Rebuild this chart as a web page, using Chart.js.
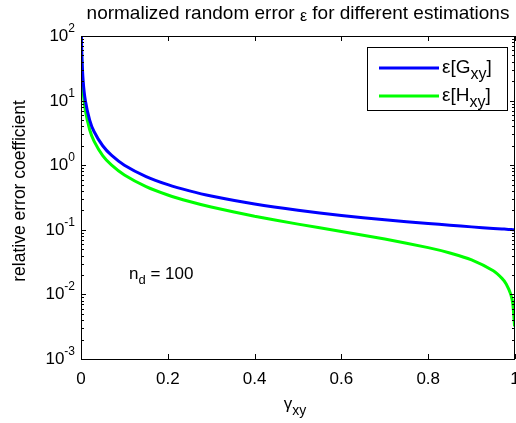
<!DOCTYPE html>
<html>
<head>
<meta charset="utf-8">
<script src="https://cdn.jsdelivr.net/npm/chart.js@4"></script>
<style>
  html, body { margin: 0; padding: 0; background: #fff; }
  #wrap { width: 516px; height: 423px; }
</style>
</head>
<body>
<div id="wrap"><canvas id="errChart" width="516" height="423"></canvas></div>
<script>
// coherence values (x axis)
const gammaVals = [0.001, 0.002, 0.005, 0.01, 0.02, 0.03, 0.05, 0.07, 0.1, 0.15, 0.2, 0.25, 0.3,
  0.4, 0.5, 0.6, 0.7, 0.8, 0.85, 0.9, 0.95, 0.97, 0.98, 0.99, 0.995, 0.999];
// eps[Gxy]
const errG = [100, 50, 20, 10, 5, 3.33, 2, 1.43, 1, 0.667, 0.5, 0.4, 0.333,
  0.25, 0.2, 0.167, 0.143, 0.125, 0.118, 0.111, 0.105, 0.103, 0.102, 0.101, 0.1005, 0.1];
// eps[Hxy]
const errH = [70.7, 35.4, 14.1, 7.07, 3.54, 2.36, 1.41, 1.01, 0.704, 0.466, 0.346, 0.274, 0.225,
  0.162, 0.1225, 0.0943, 0.0721, 0.053, 0.0438, 0.0342, 0.0232, 0.0177, 0.0144, 0.0101, 0.0071, 0.0032];
const xTicks = [0, 0.2, 0.4, 0.6, 0.8, 1];
const xTickLabels = ['0', '0.2', '0.4', '0.6', '0.8', '1'];
const yExps = [-3, -2, -1, 0, 1, 2];

const FONT = '"Liberation Sans", Arial, sans-serif';

function toPoints(ys) {
  return gammaVals.map((g, i) => ({ x: g, y: ys[i] }));
}

// draws a row of text pieces, each with its own size and vertical shift
function drawRich(ctx, parts, x, y, align) {
  let total = 0;
  parts.forEach(p => {
    ctx.font = p.size + 'px ' + FONT;
    p.w = ctx.measureText(p.t).width;
    total += p.w;
  });
  let cx = x;
  if (align === 'right') cx = x - total;
  if (align === 'center') cx = x - total / 2;
  ctx.textAlign = 'left';
  ctx.textBaseline = 'alphabetic';
  parts.forEach(p => {
    ctx.font = p.size + 'px ' + FONT;
    ctx.fillText(p.t, cx, y + (p.dy || 0));
    cx += p.w;
  });
}

const matlabAxes = {
  id: 'matlabAxes',
  afterDraw(chart) {
    const ctx = chart.ctx;
    const { left, right, top, bottom } = chart.chartArea;
    const xs = chart.scales.x;
    const ys = chart.scales.y;
    ctx.save();
    ctx.fillStyle = '#000';
    ctx.strokeStyle = '#000';
    ctx.lineWidth = 1;

    // box
    ctx.strokeRect(left + 0.5, top + 0.5, right - left - 1, bottom - top);

    // x ticks (inward, bottom + top)
    ctx.beginPath();
    xTicks.forEach(v => {
      const px = Math.round(xs.getPixelForValue(v)) + 0.5;
      ctx.moveTo(px, bottom); ctx.lineTo(px, bottom - 5);
      ctx.moveTo(px, top); ctx.lineTo(px, top + 5);
    });
    // y ticks, major + minor (inward, left + right)
    yExps.forEach(e => {
      const py = Math.round(ys.getPixelForValue(Math.pow(10, e))) + 0.5;
      ctx.moveTo(left, py); ctx.lineTo(left + 5, py);
      ctx.moveTo(right, py); ctx.lineTo(right - 5, py);
      if (e < 2) {
        for (let m = 2; m <= 9; m++) {
          const pm = Math.round(ys.getPixelForValue(m * Math.pow(10, e))) + 0.5;
          ctx.moveTo(left, pm); ctx.lineTo(left + 3, pm);
          ctx.moveTo(right, pm); ctx.lineTo(right - 3, pm);
        }
      }
    });
    ctx.stroke();

    // x tick labels
    ctx.font = '17px ' + FONT;
    ctx.textAlign = 'center';
    ctx.textBaseline = 'alphabetic';
    xTicks.forEach((v, i) => {
      ctx.fillText(xTickLabels[i], xs.getPixelForValue(v), bottom + 25);
    });

    // y tick labels 10^e
    yExps.forEach(e => {
      const py = ys.getPixelForValue(Math.pow(10, e));
      drawRich(ctx, [
        { t: '10', size: 17 },
        { t: String(e), size: 12, dy: -9 }
      ], left - 6, py + 5, 'right');
    });

    // title
    drawRich(ctx, [
      { t: 'normalized random error ', size: 19 },
      { t: 'ε', size: 16, dy: 2 },
      { t: ' for different estimations', size: 19 }
    ], 298, 19, 'center');

    // x label
    drawRich(ctx, [
      { t: 'γ', size: 17 },
      { t: 'xy', size: 14, dy: 6 }
    ], 295, 409, 'center');

    // y label
    ctx.save();
    ctx.translate(25, 191);
    ctx.rotate(-Math.PI / 2);
    drawRich(ctx, [{ t: 'relative error coefficient', size: 17.5 }], 0, 0, 'center');
    ctx.restore();

    // n_d annotation
    drawRich(ctx, [
      { t: 'n', size: 17 },
      { t: 'd', size: 13, dy: 5 },
      { t: ' = 100', size: 17 }
    ], 129, 279, 'left');

    // legend box
    const lx = 367, ly = 47, lw = 140, lh = 63;
    ctx.fillStyle = '#fff';
    ctx.fillRect(lx, ly, lw, lh);
    ctx.strokeRect(lx + 0.5, ly + 0.5, lw, lh);
    chart.data.datasets.forEach((ds, i) => {
      const yy = ly + 21 + i * 28;
      ctx.strokeStyle = ds.borderColor;
      ctx.lineWidth = 3;
      ctx.beginPath();
      ctx.moveTo(379, yy); ctx.lineTo(439, yy);
      ctx.stroke();
      ctx.fillStyle = '#000';
      drawRich(ctx, [
        { t: 'ε[' + ds.label, size: 19 },
        { t: 'xy', size: 16, dy: 6 },
        { t: ']', size: 19 }
      ], 442, yy + 5, 'left');
    });
    ctx.restore();
  }
};

new Chart(document.getElementById('errChart'), {
  type: 'line',
  data: {
    datasets: [
      {
        label: 'G',
        data: toPoints(errG),
        borderColor: '#0000ff',
        borderWidth: 3,
        pointRadius: 0,
        tension: 0.2
      },
      {
        label: 'H',
        data: toPoints(errH),
        borderColor: '#00ff00',
        borderWidth: 3,
        pointRadius: 0,
        tension: 0.2
      }
    ]
  },
  options: {
    responsive: false,
    animation: false,
    layout: { padding: { left: 81, right: 1, top: 36, bottom: 64 } },
    plugins: { legend: { display: false }, tooltip: { enabled: false } },
    scales: {
      x: { type: 'linear', min: 0, max: 1, display: false },
      y: { type: 'logarithmic', min: 0.001, max: 100, display: false }
    }
  },
  plugins: [matlabAxes]
});
</script>
</body>
</html>
